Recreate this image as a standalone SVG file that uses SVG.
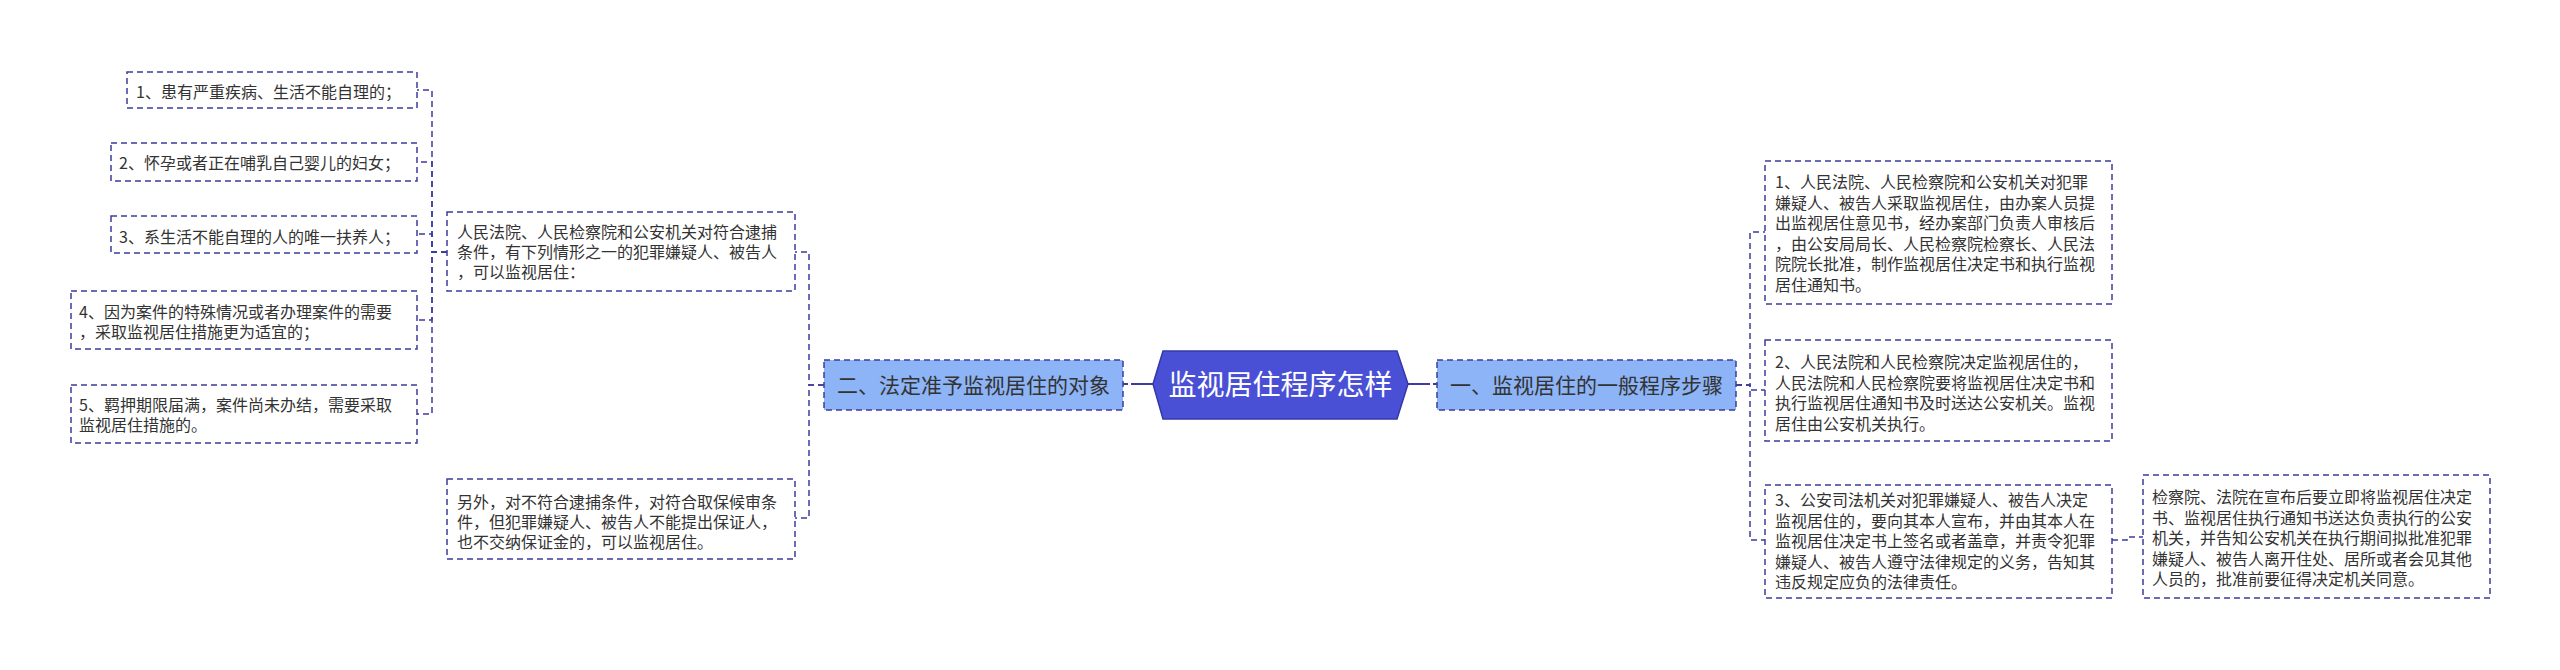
<svg xmlns="http://www.w3.org/2000/svg" width="2560" height="670" viewBox="0 0 2560 670">
<style>
.bg{fill:#ffffff}
.leaf{fill:#ffffff;stroke:#3d3d9e;stroke-width:1.5;stroke-dasharray:6 4}
.branch{fill:#8db4f6;stroke:#3d3d9e;stroke-width:1.5;stroke-dasharray:6 4}
.root{fill:#4a50d6;stroke:#3438a8;stroke-width:1.5}
.conn{fill:none;stroke:#3d3d9e;stroke-width:1.5;stroke-dasharray:6 4}
.solid{fill:none;stroke:#3d3d9e;stroke-width:2}
text{font-family:"Noto Sans CJK SC","Microsoft YaHei",sans-serif;fill:#333333}
.t16{font-size:16px}
.t21{font-size:21px;text-anchor:middle}
.t28{font-size:28px;text-anchor:middle;fill:#ffffff}
</style>
<rect class="bg" x="0" y="0" width="2560" height="670"/>
<g id="connectors">
<path class="solid" d="M1153,384 H1123" stroke-dasharray="22 3 7"/>
<path class="solid" d="M1408,384 H1437" stroke-dasharray="22 3 7"/>
<path class="conn" d="M824,385 H809 V252 H795"/>
<path class="conn" d="M824,385 H809 V518 H795"/>
<path class="conn" d="M447,252 H432 V90 H417"/>
<path class="conn" d="M447,252 H432 V162 H417"/>
<path class="conn" d="M447,252 H432 V234 H417"/>
<path class="conn" d="M447,252 H432 V320 H417"/>
<path class="conn" d="M447,252 H432 V414 H417"/>
<path class="conn" d="M1736,385 H1750 V232 H1765"/>
<path class="conn" d="M1736,385 H1750 V390 H1765"/>
<path class="conn" d="M1736,385 H1750 V540 H1765"/>
<path class="conn" d="M2112,540 H2127 V537 H2143"/>
</g>
<g id="root">
<polygon class="root" points="1153,384 1163,351 1397,351 1408,384 1397,419 1163,419"/>
<text class="t28" x="1280.5" y="395">监视居住程序怎样</text>
</g>
<g id="branch-left">
<rect class="branch" x="824" y="360" width="299" height="50"/>
<text class="t21" x="973.5" y="393">二、法定准予监视居住的对象</text>
</g>
<g id="branch-right">
<rect class="branch" x="1437" y="360" width="299" height="50"/>
<text class="t21" x="1586.5" y="393">一、监视居住的一般程序步骤</text>
</g>
<g id="left-parent">
<rect class="leaf" x="447" y="212" width="348" height="79"/>
<text class="t16" x="457" y="238">人民法院、人民检察院和公安机关对符合逮捕</text>
<text class="t16" x="457" y="258">条件，有下列情形之一的犯罪嫌疑人、被告人</text>
<text class="t16" x="457" y="278">，可以监视居住：</text>
</g>
<g id="left-other">
<rect class="leaf" x="447" y="479" width="348" height="80"/>
<text class="t16" x="457" y="508">另外，对不符合逮捕条件，对符合取保候审条</text>
<text class="t16" x="457" y="528">件，但犯罪嫌疑人、被告人不能提出保证人，</text>
<text class="t16" x="457" y="548">也不交纳保证金的，可以监视居住。</text>
</g>
<g id="leaf1">
<rect class="leaf" x="127" y="72" width="290" height="36"/>
<text class="t16" x="136" y="98">1、患有严重疾病、生活不能自理的；</text>
</g>
<g id="leaf2">
<rect class="leaf" x="111" y="143" width="306" height="38"/>
<text class="t16" x="119" y="169">2、怀孕或者正在哺乳自己婴儿的妇女；</text>
</g>
<g id="leaf3">
<rect class="leaf" x="111" y="216" width="306" height="37"/>
<text class="t16" x="119" y="243">3、系生活不能自理的人的唯一扶养人；</text>
</g>
<g id="leaf4">
<rect class="leaf" x="71" y="291" width="346" height="58"/>
<text class="t16" x="79" y="318">4、因为案件的特殊情况或者办理案件的需要</text>
<text class="t16" x="79" y="338">，采取监视居住措施更为适宜的；</text>
</g>
<g id="leaf5">
<rect class="leaf" x="71" y="385" width="346" height="58"/>
<text class="t16" x="79" y="411">5、羁押期限届满，案件尚未办结，需要采取</text>
<text class="t16" x="79" y="431">监视居住措施的。</text>
</g>
<g id="step1">
<rect class="leaf" x="1765" y="161" width="347" height="143"/>
<text class="t16" x="1775" y="188">1、人民法院、人民检察院和公安机关对犯罪</text>
<text class="t16" x="1775" y="208.5">嫌疑人、被告人采取监视居住，由办案人员提</text>
<text class="t16" x="1775" y="229">出监视居住意见书，经办案部门负责人审核后</text>
<text class="t16" x="1775" y="249.5">，由公安局局长、人民检察院检察长、人民法</text>
<text class="t16" x="1775" y="270">院院长批准，制作监视居住决定书和执行监视</text>
<text class="t16" x="1775" y="290.5">居住通知书。</text>
</g>
<g id="step2">
<rect class="leaf" x="1765" y="340" width="347" height="101"/>
<text class="t16" x="1775" y="368">2、人民法院和人民检察院决定监视居住的，</text>
<text class="t16" x="1775" y="388.5">人民法院和人民检察院要将监视居住决定书和</text>
<text class="t16" x="1775" y="409">执行监视居住通知书及时送达公安机关。监视</text>
<text class="t16" x="1775" y="429.5">居住由公安机关执行。</text>
</g>
<g id="step3">
<rect class="leaf" x="1765" y="485" width="347" height="113"/>
<text class="t16" x="1775" y="506">3、公安司法机关对犯罪嫌疑人、被告人决定</text>
<text class="t16" x="1775" y="526.5">监视居住的，要向其本人宣布，并由其本人在</text>
<text class="t16" x="1775" y="547">监视居住决定书上签名或者盖章，并责令犯罪</text>
<text class="t16" x="1775" y="567.5">嫌疑人、被告人遵守法律规定的义务，告知其</text>
<text class="t16" x="1775" y="588">违反规定应负的法律责任。</text>
</g>
<g id="step3-detail">
<rect class="leaf" x="2143" y="475" width="347" height="123"/>
<text class="t16" x="2152" y="503">检察院、法院在宣布后要立即将监视居住决定</text>
<text class="t16" x="2152" y="523.5">书、监视居住执行通知书送达负责执行的公安</text>
<text class="t16" x="2152" y="544">机关，并告知公安机关在执行期间拟批准犯罪</text>
<text class="t16" x="2152" y="564.5">嫌疑人、被告人离开住处、居所或者会见其他</text>
<text class="t16" x="2152" y="585">人员的，批准前要征得决定机关同意。</text>
</g>
</svg>
